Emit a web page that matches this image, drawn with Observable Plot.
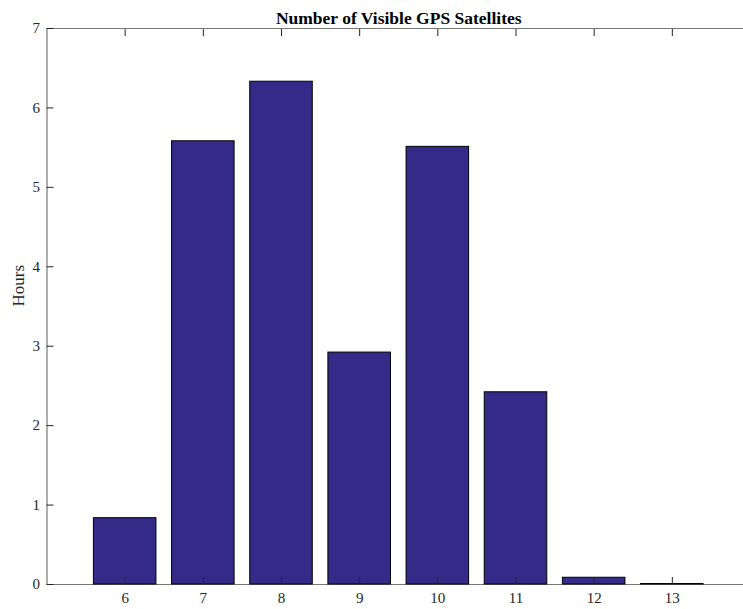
<!DOCTYPE html>
<html>
<head>
<meta charset="utf-8">
<script src="https://cdn.jsdelivr.net/npm/d3@7"></script>
<script src="https://cdn.jsdelivr.net/npm/@observablehq/plot@0.6"></script>
<style>
  html, body { margin: 0; padding: 0; background: #fff; overflow: hidden; }
</style>
</head>
<body>
<div id="chart"></div>
<script>
const satellites = [6, 7, 8, 9, 10, 11, 12, 13];
const hours = [0.835, 5.58, 6.33, 2.92, 5.51, 2.42, 0.085, 0.006];
const yTicks = [0, 1, 2, 3, 4, 5, 6, 7];
const xDomain = [5, 14];
const yDomain = [0, 7];
const title = "Number of Visible GPS Satellites";
const yLabel = "Hours";

const data = satellites.map((n, i) => ({n, h: hours[i]}));
const font = "'Liberation Serif', 'Times New Roman', serif";
const axisColor = "#262626";

const chart = Plot.plot({
  width: 743,
  height: 609,
  marginTop: 28,
  marginBottom: 25,
  marginLeft: 46.5,
  marginRight: 0,
  style: {fontFamily: font, fontSize: "15px", color: axisColor, background: "#fff"},
  x: {type: "linear", domain: xDomain, range: [46.5, 750]},
  y: {domain: yDomain},
  marks: [
    Plot.ruleX([xDomain[0]], {stroke: "#777", strokeWidth: 1.2}),
    Plot.ruleY(yDomain, {stroke: "#777", strokeWidth: 1.2}),
    Plot.rectY(data, {x1: d => d.n - 0.4, x2: d => d.n + 0.4, y1: 0, y2: "h", fill: "#352a87", stroke: "#000", strokeWidth: 1}),
    Plot.axisY({ticks: yTicks, tickFormat: d3.format("d"), anchor: "left", tickSize: -7, tickPadding: 14, stroke: axisColor, label: null, fontSize: 15}),
    Plot.axisX({ticks: satellites, tickFormat: d3.format("d"), anchor: "bottom", tickSize: -7, tickPadding: 15, stroke: axisColor, label: null, fontSize: 15}),
    Plot.axisX({ticks: satellites, anchor: "top", tickSize: -7, tickFormat: () => "", stroke: axisColor, label: null}),
    Plot.text([title], {frameAnchor: "top", dy: -17, dx: 3.5, fontWeight: "bold", fontSize: 17.5, fill: "#000"}),
    Plot.text([yLabel], {frameAnchor: "left", dx: -28, rotate: -90, fontSize: 17, fill: axisColor})
  ]
});
document.getElementById("chart").appendChild(chart);
</script>
</body>
</html>
